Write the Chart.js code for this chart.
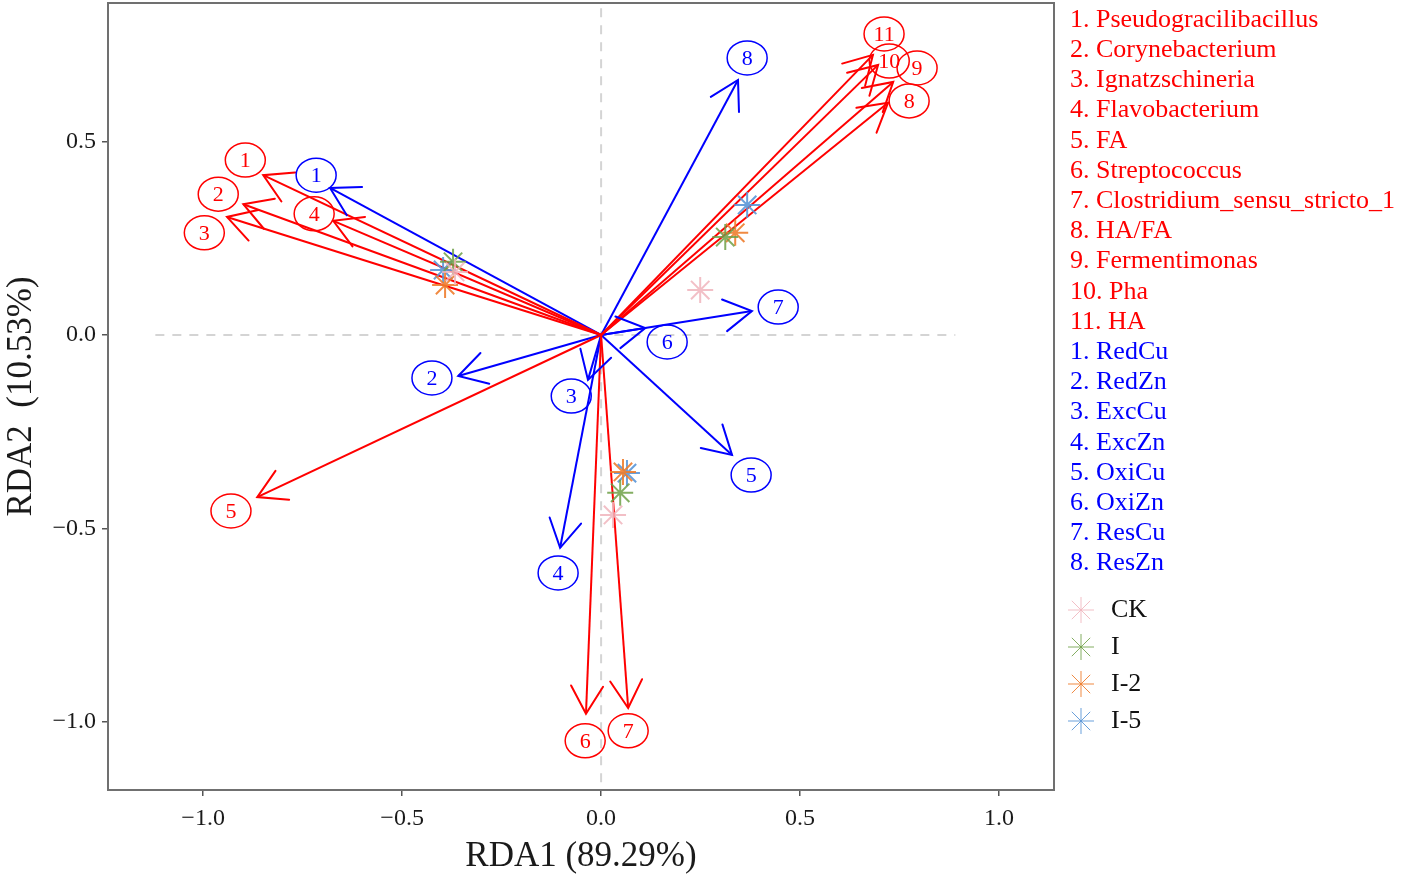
<!DOCTYPE html>
<html>
<head>
<meta charset="utf-8">
<script src="https://cdn.jsdelivr.net/npm/chart.js@4.4.0/dist/chart.umd.min.js"></script>
<style>
  body { margin: 0; background: #fff; }
  #rda { display: block; }
</style>
</head>
<body>
<canvas id="rda" width="1406" height="882"></canvas>
<script>
// species (red) arrows: tip coordinates and label positions
const speciesNames = ["Pseudogracilibacillus", "Corynebacterium", "Ignatzschineria", "Flavobacterium", "FA",
  "Streptococcus", "Clostridium_sensu_stricto_1", "HA/FA", "Fermentimonas", "Pha", "HA"];
const speciesX = [-0.849, -0.899, -0.940, -0.673, -0.864, -0.038, 0.068, 0.721, 0.734, 0.696, 0.683];
const speciesY = [0.413, 0.338, 0.305, 0.295, -0.419, -0.979, -0.964, 0.600, 0.654, 0.698, 0.724];
const speciesLabelX = [-0.894, -0.962, -0.997, -0.721, -0.930, -0.040, 0.068, 0.774, 0.794, 0.724, 0.711];
const speciesLabelY = [0.452, 0.364, 0.264, 0.313, -0.455, -1.049, -1.023, 0.605, 0.690, 0.708, 0.778];

// environmental (blue) arrows
const envNames = ["RedCu", "RedZn", "ExcCu", "ExcZn", "OxiCu", "OxiZn", "ResCu", "ResZn"];
const envX = [-0.681, -0.359, -0.033, -0.103, 0.329, 0.111, 0.379, 0.344];
const envY = [0.380, -0.106, -0.116, -0.550, -0.310, 0.018, 0.062, 0.659];
const envLabelX = [-0.716, -0.425, -0.075, -0.108, 0.377, 0.166, 0.445, 0.367];
const envLabelY = [0.413, -0.111, -0.158, -0.615, -0.362, -0.018, 0.072, 0.716];

// samples
const groups = ["CK", "I", "I-2", "I-5"];
const groupColors = ["rgba(240,180,188,0.85)", "rgba(110,160,70,0.85)", "rgba(238,125,45,0.9)", "rgba(90,150,215,0.9)"];
const ckX = [-0.367, 0.249, 0.030],  ckY = [0.163, 0.116, -0.465];
const iX = [-0.372, 0.312, 0.048],   iY = [0.189, 0.253, -0.408];
const i2X = [-0.392, 0.337, 0.055],  i2Y = [0.129, 0.264, -0.354];
const i5X = [-0.397, 0.367, 0.065],  i5Y = [0.168, 0.336, -0.357];

const xTicks = [-1.0, -0.5, 0.0, 0.5, 1.0];
const yTicks = [-1.0, -0.5, 0.0, 0.5];

const RED = "#ff0000";
const BLUE = "#0000ff";
const SERIF = "'Liberation Serif', 'DejaVu Serif', serif";

function fmt(v) {
  return v.toFixed(1).replace("-", "\u2212");
}

const datasets = [];

// sample points
const sampleXs = [ckX, iX, i2X, i5X];
const sampleYs = [ckY, iY, i2Y, i5Y];
groups.forEach((g, gi) => {
  datasets.push({
    type: "scatter",
    label: g,
    data: sampleXs[gi].map((x, k) => ({ x: x, y: sampleYs[gi][k] })),
    pointStyle: "star",
    pointRadius: 13,
    pointBorderWidth: 2,
    borderColor: groupColors[gi],
    backgroundColor: groupColors[gi],
    order: 0
  });
});

// arrow shafts
speciesX.forEach((x, k) => {
  datasets.push({
    type: "line",
    data: [{ x: 0, y: 0 }, { x: x, y: speciesY[k] }],
    borderColor: RED, borderWidth: 2, pointRadius: 0, order: 1
  });
});
envX.forEach((x, k) => {
  datasets.push({
    type: "line",
    data: [{ x: 0, y: 0 }, { x: x, y: envY[k] }],
    borderColor: BLUE, borderWidth: 2, pointRadius: 0, order: 1
  });
});

// dashed reference lines
datasets.push({
  type: "line",
  data: [{ x: -1.12, y: 0 }, { x: 0.89, y: 0 }],
  borderColor: "#d4d4d4", borderWidth: 2, borderDash: [9, 8], pointRadius: 0, order: 2
});
datasets.push({
  type: "line",
  data: [{ x: 0, y: -1.2 }, { x: 0, y: 0.9 }],
  borderColor: "#d4d4d4", borderWidth: 2, borderDash: [9, 8], pointRadius: 0, order: 2
});

// arrowheads, circled labels, frame and side legend
const annotate = {
  id: "annotate",
  afterDatasetsDraw(chart) {
    const ctx = chart.ctx;
    const xs = chart.scales.x, ys = chart.scales.y;
    const area = chart.chartArea;

    ctx.save();
    ctx.beginPath();
    ctx.rect(area.left, area.top, area.right - area.left, area.bottom - area.top);
    ctx.clip();

    function head(x, y, color) {
      const px = xs.getPixelForValue(x), py = ys.getPixelForValue(y);
      const ox = xs.getPixelForValue(0), oy = ys.getPixelForValue(0);
      const ang = Math.atan2(oy - py, ox - px);
      const len = 32, spread = Math.PI / 6;
      ctx.strokeStyle = color;
      ctx.lineWidth = 2;
      ctx.lineCap = "round";
      ctx.beginPath();
      ctx.moveTo(px + len * Math.cos(ang - spread), py + len * Math.sin(ang - spread));
      ctx.lineTo(px, py);
      ctx.lineTo(px + len * Math.cos(ang + spread), py + len * Math.sin(ang + spread));
      ctx.stroke();
    }
    function tag(x, y, text, color) {
      const px = xs.getPixelForValue(x), py = ys.getPixelForValue(y);
      ctx.strokeStyle = color;
      ctx.lineWidth = 1.5;
      ctx.beginPath();
      ctx.ellipse(px, py, 20, 17, 0, 0, Math.PI * 2);
      ctx.stroke();
      ctx.fillStyle = color;
      ctx.font = "22px " + SERIF;
      ctx.textAlign = "center";
      ctx.textBaseline = "middle";
      ctx.fillText(text, px, py + 1);
    }

    speciesX.forEach((x, k) => head(x, speciesY[k], RED));
    envX.forEach((x, k) => head(x, envY[k], BLUE));
    speciesLabelX.forEach((x, k) => tag(x, speciesLabelY[k], String(k + 1), RED));
    envLabelX.forEach((x, k) => tag(x, envLabelY[k], String(k + 1), BLUE));
    ctx.restore();

    // frame
    ctx.save();
    ctx.strokeStyle = "#707070";
    ctx.lineWidth = 2;
    ctx.strokeRect(area.left, area.top, area.right - area.left, area.bottom - area.top);
    ctx.restore();
  },
  afterDraw(chart) {
    const ctx = chart.ctx;
    ctx.save();
    ctx.font = "26px " + SERIF;
    ctx.textAlign = "left";
    ctx.textBaseline = "middle";
    let y = 20;
    speciesNames.forEach((n, k) => {
      ctx.fillStyle = RED;
      ctx.fillText((k + 1) + ". " + n, 1070, y);
      y += 30.2;
    });
    envNames.forEach((n, k) => {
      ctx.fillStyle = BLUE;
      ctx.fillText((k + 1) + ". " + n, 1070, y);
      y += 30.2;
    });
    groups.forEach((g, gi) => {
      const gy = 610 + gi * 37;
      ctx.strokeStyle = groupColors[gi];
      ctx.fillStyle = groupColors[gi];
      Chart.helpers.drawPoint(ctx, { pointStyle: "star", radius: 13, rotation: 0, borderWidth: 2 }, 1081, gy);
      ctx.fillStyle = "#111";
      ctx.fillText(g, 1111, gy);
    });
    ctx.restore();
  }
};

new Chart(document.getElementById("rda"), {
  data: { datasets: datasets },
  options: {
    responsive: false,
    animation: false,
    layout: { autoPadding: false, padding: { top: 3, right: 352, bottom: 0, left: 0 } },
    plugins: { legend: { display: false }, tooltip: { enabled: false } },
    scales: {
      x: {
        type: "linear",
        min: -1.239, max: 1.138,
        afterBuildTicks: s => { s.ticks = xTicks.map(v => ({ value: v })); },
        afterFit: s => { s.height = 92; s.paddingLeft = 0; s.paddingRight = 0; },
        grid: { drawOnChartArea: false, drawTicks: true, tickLength: 6, color: "#555", lineWidth: 1.5 },
        border: { display: false },
        ticks: { callback: v => fmt(v), font: { family: SERIF, size: 24 }, color: "#1a1a1a", padding: 8, maxRotation: 0 },
        title: { display: true, text: "RDA1 (89.29%)", font: { family: SERIF, size: 35 }, color: "#1a1a1a", padding: { top: 0, bottom: 4 } }
      },
      y: {
        type: "linear",
        min: -1.176, max: 0.858,
        afterBuildTicks: s => { s.ticks = yTicks.map(v => ({ value: v })); },
        afterFit: s => { s.width = 108; s.paddingTop = 0; s.paddingBottom = 0; },
        grid: { drawOnChartArea: false, drawTicks: true, tickLength: 6, color: "#555", lineWidth: 1.5 },
        border: { display: false },
        ticks: { callback: v => fmt(v), font: { family: SERIF, size: 24 }, color: "#1a1a1a", padding: 6 },
        title: { display: true, text: "RDA2  (10.53%)", font: { family: SERIF, size: 35 }, color: "#1a1a1a", padding: { top: 1, bottom: 0 } }
      }
    }
  },
  plugins: [annotate]
});
</script>
</body>
</html>
